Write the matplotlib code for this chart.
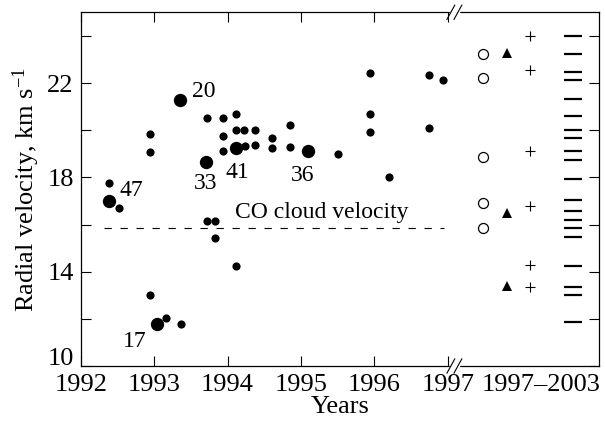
import matplotlib
matplotlib.use("Agg")
import matplotlib.pyplot as plt
import numpy as np

plt.rcParams['font.family'] = ['Liberation Serif', 'DejaVu Serif']
plt.rcParams['mathtext.fontset'] = 'custom'
plt.rcParams['mathtext.rm'] = 'Liberation Serif'
plt.rcParams['mathtext.it'] = 'Liberation Serif:italic'

# ---------------- data ----------------
# small filled circles (individual measurements 1992-1997)
small_years = [1992.38, 1992.52, 1992.95, 1992.95, 1992.95, 1993.16, 1993.36,
               1993.72, 1993.94, 1994.11, 1993.94, 1994.11, 1994.23, 1994.37,
               1993.94, 1994.24, 1994.37, 1994.60, 1994.60, 1994.85, 1994.85,
               1995.50, 1996.20, 1995.94, 1995.94, 1995.94, 1996.75, 1996.93,
               1996.75, 1993.72, 1993.83, 1993.83, 1994.11]
small_vel = [17.78, 16.72, 19.82, 19.09, 13.03, 12.02, 11.78,
             20.52, 20.52, 20.70, 19.77, 20.02, 20.02, 20.02,
             19.10, 19.31, 19.37, 19.65, 19.23, 20.23, 19.29,
             18.99, 18.01, 22.41, 20.69, 19.92, 22.36, 22.11,
             20.09, 16.17, 16.17, 15.44, 14.22]

# large filled circles (labelled stars)
big_years = [1993.354, 1993.71, 1994.11, 1995.09, 1992.38, 1993.04]
big_vel = [21.30, 18.65, 19.23, 19.13, 17.01, 11.80]
big_labels = ['20', '33', '41', '36', '47', '17']

# 1997-2003 columns
open_vel = [23.24, 22.22, 18.86, 16.91, 15.85]
tri_vel = [23.26, 16.48, 13.40]
plus_vel = [24.01, 22.57, 19.10, 16.79, 14.29, 13.34]
bar_vel = [24.01, 23.21, 22.47, 22.13, 21.32, 20.62, 20.02, 19.65, 19.12,
           18.73, 17.93, 17.05, 16.58, 16.20, 15.85, 15.46, 14.25, 13.37,
           13.00, 11.88]

co_velocity = 15.85
year_ticks = [1992, 1993, 1994, 1995, 1996, 1997]
ytick_vals = [10, 12, 14, 16, 18, 20, 22, 24]
ytick_labels = ['', '', '14', '', '18', '', '22', '']

# ---------------- layout ----------------
fig = plt.figure(figsize=(6.05, 4.22), dpi=100)
ax = fig.add_axes([0.1334, 0.1327, 0.8567, 0.8382])
ax.set_xlim(1992, 1999.06)
ax.set_ylim(10, 25)

col_open, col_tri, col_plus, col_bar = 1997.485, 1997.80, 1998.12, 1998.70

ax.plot(small_years, small_vel, 'o', color='black', ms=5.9, mew=0, zorder=3)
ax.plot(big_years, big_vel, 'o', color='black', ms=9.6, mew=0, zorder=3)

label_pos = {'20': (1993.68, 21.42), '33': (1993.70, 17.49),
             '41': (1994.13, 17.99), '36': (1995.02, 17.85),
             '47': (1992.69, 17.19), '17': (1992.73, 10.82)}
for lab in big_labels:
    lx, ly = label_pos[lab]
    ax.text(lx, ly, lab, fontsize=17, ha='center', va='baseline')

ax.plot([col_open] * len(open_vel), open_vel, 'o', mfc='white', mec='black',
        ms=7.2, mew=0.9)
ax.plot([col_tri] * len(tri_vel), tri_vel, '^', color='black', ms=6.8, mew=0)
ax.plot([col_plus] * len(plus_vel), plus_vel, '+', color='black', ms=7.6,
        mew=0.8)
ax.plot([col_bar] * len(bar_vel), bar_vel, '_', color='black', ms=13.2,
        mew=1.6)

ax.plot([1992.32, 1996.95], [co_velocity, co_velocity], color='black', lw=0.8,
        linestyle=(0, (6.6, 7.8)))
ax.text(1995.28, 16.27, 'CO cloud velocity', fontsize=17, ha='center',
        va='baseline')

# ticks
ax.set_xticks(year_ticks, [str(y) for y in year_ticks])
ax.set_xticks([1998.27], ['1997\u20132003'], minor=True)
ax.set_yticks(ytick_vals, ytick_labels)
ax.tick_params(axis='both', which='major', direction='in', length=7,
               width=0.8, labelsize=19, top=True, right=True)
ax.tick_params(axis='x', which='major', pad=5.5)
ax.tick_params(axis='y', which='major', pad=5)
ax.tick_params(axis='x', which='minor', length=0, labelsize=19, pad=5.5)
for s in ax.spines.values():
    s.set_linewidth(0.9)

# the "10" label sits a little above its tick in the original
ax.annotate('10', xy=(0, 10), xycoords=('axes fraction', 'data'),
            xytext=(-5, 5), textcoords='offset points', ha='right',
            va='center', fontsize=19)

ax.set_xlabel('Years', fontsize=19, labelpad=0)
ax.set_ylabel('Radial velocity, km s$^{\\mathregular{-1}}$', fontsize=19,
              labelpad=4)

# axis break marks
xb = (1997.09 - 1992) / (1999.06 - 1992)
dx = 0.0068
for yb in (0.0, 1.0):
    ax.plot([xb - dx, xb + dx], [yb, yb], color='white', lw=2.5,
            transform=ax.transAxes, clip_on=False, zorder=5)
    for off in (-0.0068, 0.0068):
        ax.plot([xb + off - 0.0075, xb + off + 0.0075],
                [yb - 0.02, yb + 0.02], color='black', lw=0.8,
                transform=ax.transAxes, clip_on=False, zorder=6)

fig.savefig('out.png', dpi=100)
